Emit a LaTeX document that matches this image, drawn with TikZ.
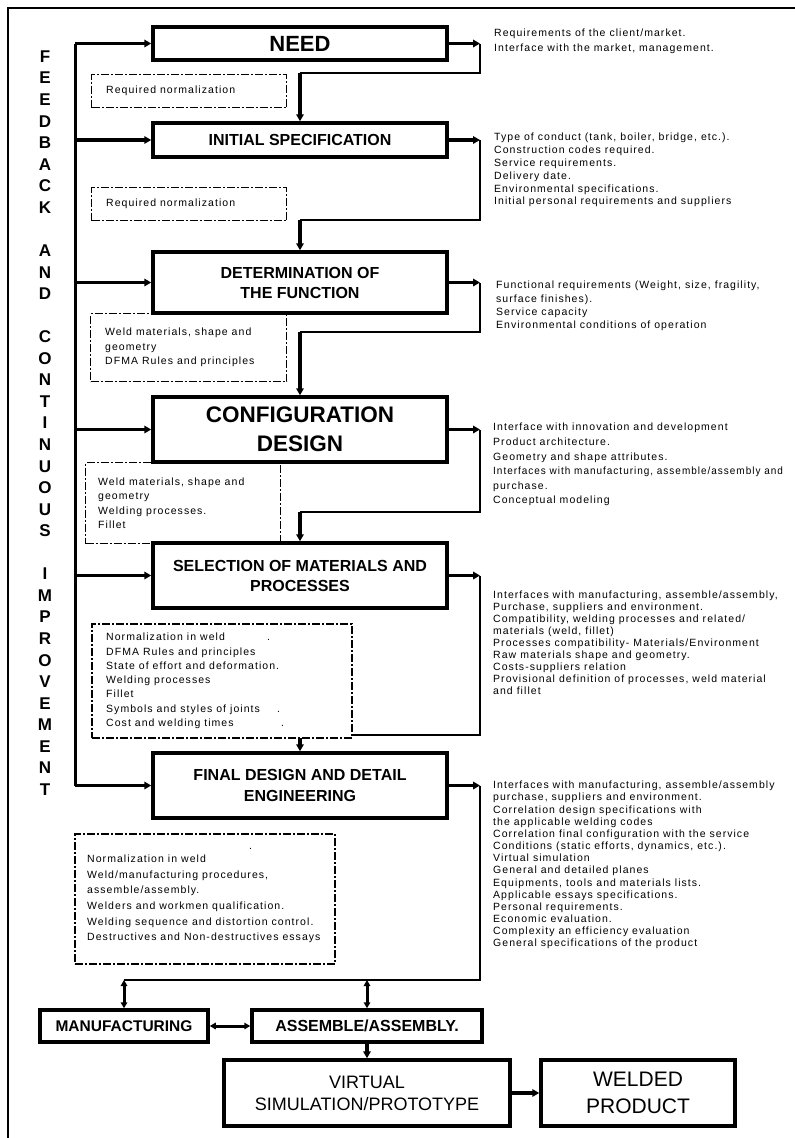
\documentclass[tikz,border=0pt]{standalone}
\usepackage{fontspec}
\setmainfont{Liberation Sans}
\newfontfamily\notefont[LetterSpace=10]{Liberation Sans}
\usetikzlibrary{arrows.meta}
\pgfdeclarelayer{bg}
\pgfsetlayers{bg,main}

\begin{document}
\begin{tikzpicture}[x=1pt, y=-1pt,
    stage/.style={draw, line width=3.5pt, fill=white, inner sep=0pt, align=center,
        minimum width=294pt, font=\bfseries\fontsize{16}{20}\selectfont},
    endbox/.style={draw, line width=3.5pt, fill=white, inner sep=0pt, align=center},
    normbox/.style={draw, line width=1.3pt, fill=white, inner sep=0pt, anchor=north west,
        dash pattern=on 8pt off 2pt on 2pt off 2pt},
    normtext/.style={anchor=west, inner sep=0pt, align=left,
        font=\notefont\fontsize{10.5}{#1}\selectfont},
    note/.style={anchor=north west, inner sep=0pt, align=left,
        font=\notefont\fontsize{10.5}{#1}\selectfont},
    flow/.style={line width=3.5pt, -{Triangle[length=7pt,width=7.5pt]}},
    twoway/.style={line width=3pt, {Triangle[length=6pt,width=6.5pt]}-{Triangle[length=6pt,width=6.5pt]}},
    loopline/.style={line width=1.6pt},
]
\useasboundingbox (0,0) rectangle (795,1138);

% main stages
\node[stage, minimum height=33pt, font=\bfseries\fontsize{22}{26}\selectfont] (need) at (300,43.5) {NEED};
\node[stage, minimum height=34pt] (initspec) at (300,140) {INITIAL SPECIFICATION};
\node[stage, minimum height=61pt] (determ) at (300,282.5) {DETERMINATION OF\\THE FUNCTION};
\node[stage, minimum height=65pt, font=\bfseries\fontsize{22.5}{29}\selectfont] (config) at (300,429.5) {CONFIGURATION\\DESIGN};
\node[stage, minimum height=65pt] (selection) at (300,575.5) {SELECTION OF MATERIALS AND\\PROCESSES};
\node[stage, minimum height=65pt, font=\bfseries\fontsize{16}{21}\selectfont] (final) at (300,785.5) {FINAL DESIGN AND DETAIL\\ENGINEERING};

\node[endbox, minimum width=168pt, minimum height=32pt, font=\bfseries\fontsize{15.5}{18}\selectfont] (manuf) at (124,1026) {MANUFACTURING};
\node[endbox, minimum width=230pt, minimum height=32pt, font=\bfseries\fontsize{16}{18}\selectfont] (assembly) at (367,1026) {ASSEMBLE/ASSEMBLY.};
\node[endbox, minimum width=286pt, minimum height=66pt, font=\fontsize{18}{22}\selectfont] (virtual) at (367,1093) {VIRTUAL\\SIMULATION/PROTOTYPE};
\node[endbox, minimum width=194pt, minimum height=66pt, font=\fontsize{21}{27}\selectfont] (welded) at (638,1093) {WELDED\\PRODUCT};

\node[inner sep=0pt, anchor=north, align=center, font=\bfseries\fontsize{17}{21.56}\selectfont] (fbtext) at (45,50.5)
    {F\\E\\E\\D\\B\\A\\C\\K\\~\\A\\N\\D\\~\\C\\O\\N\\T\\I\\N\\U\\O\\U\\S\\~\\I\\M\\P\\R\\O\\V\\E\\M\\E\\N\\T};

% notes on the right
\node[note=15] (needtxt) at (494,29) {Requirements of the client/market.\\Interface with the market, management.};
\node[note=12.8] (inittxt) at (494,133) {Type of conduct (tank, boiler, bridge, etc.).\\Construction codes required.\\Service requirements.\\Delivery date.\\Environmental specifications.\\Initial personal requirements and suppliers};
\node[note=13.3] (determtxt) at (496,281) {Functional requirements (Weight, size, fragility,\\surface finishes).\\Service capacity\\Environmental conditions of operation};
\node[note=14.6] (configtxt) at (493,423) {Interface with innovation and development\\Product architecture.\\Geometry and shape attributes.\\\scalebox{0.95}[1]{Interfaces with manufacturing, assemble/assembly and}\\purchase.\\Conceptual modeling};
\node[note=12] (selecttxt) at (493,591) {Interfaces with manufacturing, assemble/assembly,\\Purchase, suppliers and environment.\\Compatibility, welding processes and related/\\materials (weld, fillet)\\Processes compatibility- Materials/Environment\\Raw materials shape and geometry.\\Costs-suppliers relation\\Provisional definition of processes, weld material\\and fillet};
\node[note=12.15] (finaltxt) at (493,781) {Interfaces with manufacturing, assemble/assembly\\purchase, suppliers and environment.\\Correlation design specifications with\\the applicable welding codes\\Correlation final configuration with the service\\Conditions (static efforts, dynamics, etc.).\\Virtual simulation\\General and detailed planes\\Equipments, tools and materials lists.\\Applicable essays specifications.\\Personal requirements.\\Economic evaluation.\\Complexity an efficiency evaluation\\General specifications of the product};

\begin{pgfonlayer}{bg}
\draw[line width=2.5pt] (8,1138) -- (8,8) -- (795,8);
\coordinate (fb) at (75,0);
\coordinate (rl) at (480,0);

% feedback
\draw[line width=3pt] (fb |- need.west) -- (fb |- final.west);
\draw[flow] (fb |- need.west) -- (need.west);
\draw[flow] (fb |- initspec.west) -- (initspec.west);
\draw[flow] (fb |- determ.west) -- (determ.west);
\draw[flow] (fb |- config.west) -- (config.west);
\draw[flow] (fb |- selection.west) -- (selection.west);
\draw[flow] (fb |- final.west) -- (final.west);

% loops on the right
\coordinate (ret1) at (300,73);
\coordinate (ret2) at (300,220);
\coordinate (ret3) at (300,332);
\coordinate (ret4) at (300,512);
\coordinate (ret5) at (300,735);
\coordinate (ret6) at (124,980);
\draw[flow] (need.east) -- (need.east -| rl);
\draw[loopline] (need.east -| rl) -- (rl |- ret1) -- (ret1);
\draw[flow] (ret1) -- (initspec.north);
\draw[flow] (initspec.east) -- (initspec.east -| rl);
\draw[loopline] (initspec.east -| rl) -- (rl |- ret2) -- (ret2);
\draw[flow] (ret2) -- (determ.north);
\draw[flow] (determ.east) -- (determ.east -| rl);
\draw[loopline] (determ.east -| rl) -- (rl |- ret3) -- (ret3);
\draw[flow] (ret3) -- (config.north);
\draw[flow] (config.east) -- (config.east -| rl);
\draw[loopline] (config.east -| rl) -- (rl |- ret4) -- (ret4);
\draw[flow] (ret4) -- (selection.north);
\draw[flow] (selection.east) -- (selection.east -| rl);
\draw[loopline] (selection.east -| rl) -- (rl |- ret5) -- (ret5);
\draw[flow] (ret5) -- (final.north);
\draw[flow] (final.east) -- (final.east -| rl);
\draw[loopline] (final.east -| rl) -- (rl |- ret6) -- (ret6);
\draw[twoway] (ret6) -- (manuf.north);
\draw[twoway] (assembly.north |- ret6) -- (assembly.north);
\draw[twoway] (manuf.east) -- (assembly.west);
\draw[flow] (assembly.south) -- (virtual.north);
\draw[flow] (virtual.east) -- (welded.west);

% normalization boxes
\node[normbox, minimum width=195pt, minimum height=33pt] (norm1) at (91,74) {};
\node[normtext=12.6] (norm1txt) at ([xshift=15pt]norm1.west) {Required normalization};
\node[normbox, minimum width=195pt, minimum height=33pt] (norm2) at (91,187) {};
\node[normtext=12.6] (norm2txt) at ([xshift=15pt]norm2.west) {Required normalization};
\node[normbox, minimum width=196pt, minimum height=68pt] (norm3) at (90,313) {};
\node[normtext=14.5] (norm3txt) at ([xshift=15pt]norm3.west) {Weld materials, shape and\\geometry\\DFMA Rules and principles};
\node[normbox, minimum width=195pt, minimum height=81pt] (norm4) at (85,462) {};
\node[normtext=14.3] (norm4txt) at ([xshift=13pt]norm4.west) {Weld materials, shape and\\geometry\\Welding processes.\\Fillet};
\node[normbox, line width=1.8pt, minimum width=260pt, minimum height=114pt] (norm5) at (91,623) {};
\node[normtext=14.3] (norm5txt) at ([xshift=15pt]norm5.west) {\makebox[161pt][l]{Normalization in weld}.\\DFMA Rules and principles\\State of effort and deformation.\\Welding processes\\Fillet\\\makebox[171pt][l]{Symbols and styles of joints}.\\\makebox[175pt][l]{Cost and welding times}.};
\node[normbox, line width=1.8pt, minimum width=260pt, minimum height=130pt] (norm6) at (74,833) {};
\node[normtext=15.6] (norm6txt) at ([xshift=13pt]norm6.west) {Normalization in weld\\Weld/manufacturing procedures,\\assemble/assembly.\\Welders and workmen qualification.\\Welding sequence and distortion control.\\Destructives and Non-destructives essays};
\node[normtext=12] (norm6dot) at (249,849) {.};
\end{pgfonlayer}
\end{tikzpicture}
\end{document}
